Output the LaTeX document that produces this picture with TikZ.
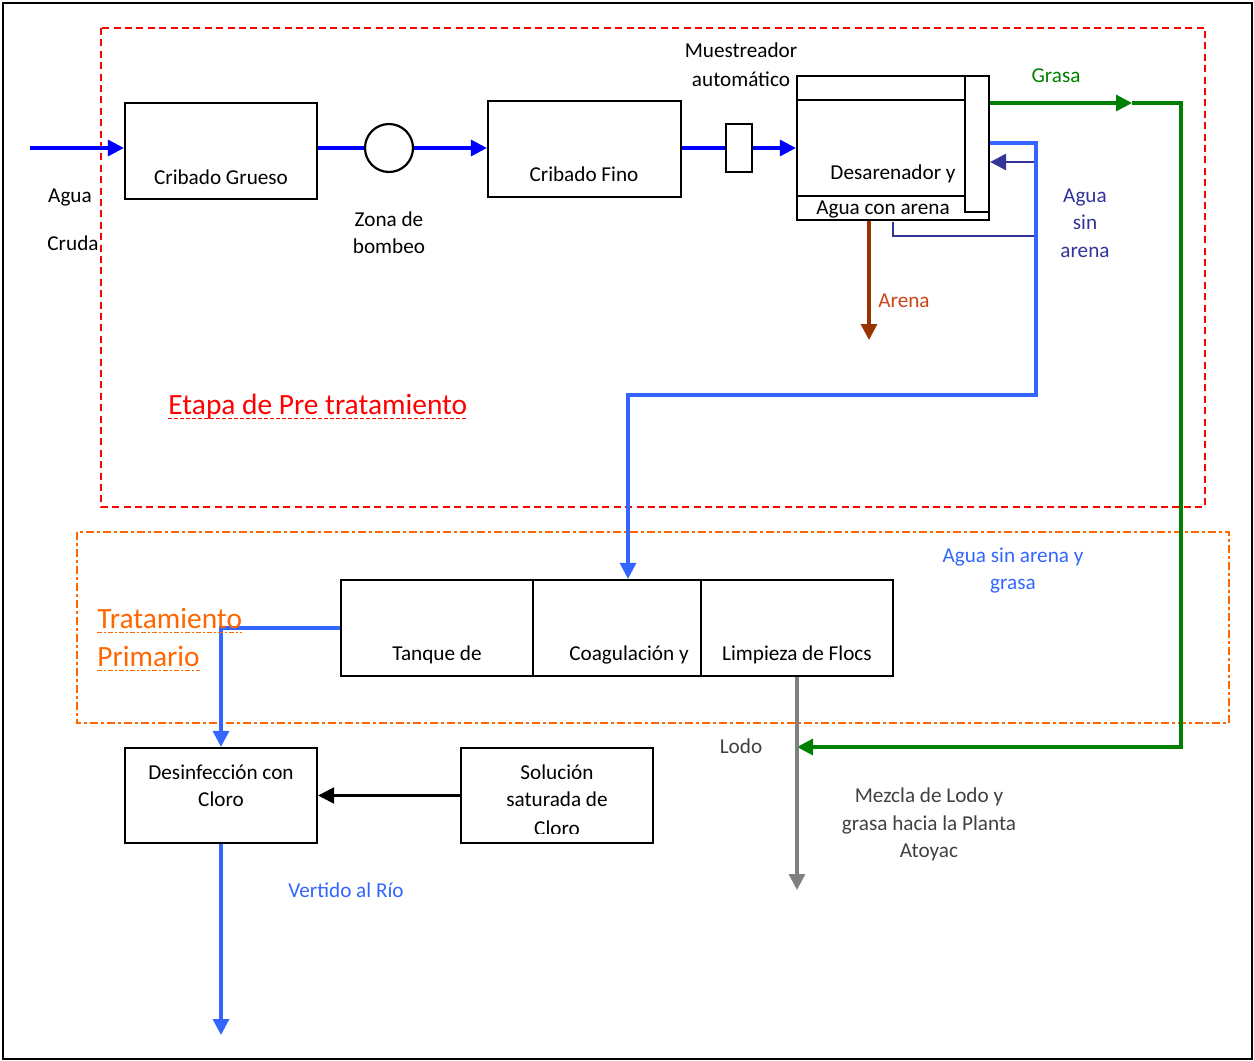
\documentclass[tikz,border=0pt]{standalone}
\usepackage{fontspec}
\setmainfont{Carlito}
\usetikzlibrary{arrows.meta}
\definecolor{flowblue}{RGB}{0,0,255}
\definecolor{lblue}{RGB}{51,102,255}
\definecolor{dblue}{RGB}{51,51,153}
\definecolor{grn}{RGB}{0,128,0}
\definecolor{brn}{RGB}{153,51,0}
\definecolor{arenatxt}{RGB}{204,68,20}
\definecolor{org}{RGB}{255,102,0}
\definecolor{redl}{RGB}{255,0,0}
\definecolor{gry}{RGB}{128,128,128}
\definecolor{dgry}{RGB}{64,64,64}
\begin{document}
\begin{tikzpicture}[x=0.5pt,y=-0.5pt,
  box/.style={draw=black,line width=1.1pt,inner sep=0pt,rectangle},
  txt/.style={font=\fontsize{10.6}{12.7}\selectfont,inner sep=0pt,anchor=center,text height=0.62em,text depth=0pt},
  head/.style={font=\fontsize{14.7}{17}\selectfont,inner sep=0pt,anchor=base west,text depth=0pt},
  tip/.style={-{Triangle[length=8pt,width=8pt]}},
  flow/.style={line width=1.6pt},
]
\useasboundingbox (0,0) rectangle (1254,1061);
\draw[line width=1.1pt] (3,3) rectangle (1252,1059);

% stage frames
\draw[redl,line width=1.2pt,dash pattern=on 3.5pt off 2.2pt] (101,28) rectangle (1205,507);
\draw[org,line width=1.2pt,dash pattern=on 4pt off 1.5pt on 1.5pt off 1.5pt] (77,532) rectangle (1229,723);

% boxes
\node[box,minimum width=96pt,minimum height=48pt] (cg) at (221,151) {};
\node[draw=black,line width=1.1pt,circle,inner sep=0pt,minimum size=24pt] (pump) at (389,148) {};
\node[box,minimum width=96.5pt,minimum height=48pt] (cf) at (584.5,149) {};
\node[box,minimum width=13pt,minimum height=24pt] (mu) at (739,148) {};
\node[box,minimum width=96pt,minimum height=72pt] (des) at (893,148) {};
\node[box,minimum width=12pt,minimum height=68pt] (bar) at (977,144) {};
\draw[line width=1.1pt] (des.west |- 0,100) -- (bar.west |- 0,100);
\draw[line width=1.1pt] (des.west |- 0,196) -- (bar.west |- 0,196);

\node[box,minimum width=96pt,minimum height=48pt] (tq) at (437,628) {};
\node[box,minimum width=84pt,minimum height=48pt] (co) at (617,628) {};
\node[box,minimum width=96pt,minimum height=48pt] (li) at (797,628) {};

\node[box,minimum width=96pt,minimum height=47.5pt] (dis) at (221,795.5) {};
\node[box,minimum width=96pt,minimum height=47.5pt] (sol) at (557,795.5) {};

% coordinates
\coordinate (in) at (30,148);
\coordinate (gm) at (1132,103);
\coordinate (g1) at (1181,103);
\coordinate (g2) at (1181,747);
\coordinate (lj) at (797,747);
\coordinate (lend) at (797,890);
\coordinate (lb1) at (1036,143);
\coordinate (lb2) at (1036,395);
\coordinate (lb3) at (628,395);
\coordinate (db0) at (893,222);
\coordinate (db1) at (893,236);
\coordinate (db2) at (1036,236);
\coordinate (db3) at (1036,162);
\coordinate (ar) at (869,340);
\coordinate (t1) at (221,628);
\coordinate (vend) at (221,1035);

% main flow
\draw[flowblue,flow,tip] (in) -- (in -| cg.west);
\draw[flowblue,flow] (cg.east |- pump) -- (pump.west);
\draw[flowblue,flow,tip] (pump.east) -- (pump -| cf.west);
\draw[flowblue,flow] (cf.east |- mu) -- (mu.west);
\draw[flowblue,flow,tip] (mu.east) -- (mu -| des.west);

% grease
\draw[grn,flow,tip] (bar.east |- g1) -- (gm);
\draw[grn,flow,tip] (gm) -- (g1) -- (g2) -- (lj);

% sand
\draw[brn,flow,tip] (ar |- des.south) -- (ar);

% water without sand (dark blue)
\draw[dblue,line width=1.4pt,tip] (db0) -- (db1) -- (db2) -- (db3) -- (db3 -| bar.east);
% water without sand and grease
\draw[lblue,flow,tip] (bar.east |- lb1) -- (lb1) -- (lb2) -- (lb3) -- (lb3 |- co.north);

% primary treatment to disinfection
\draw[lblue,flow,tip] (tq.west) -- (t1) -- (dis.north);
\draw[line width=1.1pt,tip] (sol.west) -- (dis.east);
\draw[lblue,flow,tip] (dis.south) -- (vend);
\draw[gry,flow,tip] (li.south) -- (lend);

% texts
\node[txt] (t-cg) at (221,178) {Cribado Grueso};
\node[txt] (t-cf) at (584,175) {Cribado Fino};
\node[txt] (t-des) at (893,173) {Desarenador y};
\node[txt] (t-aca) at (883,208) {Agua con arena};
\node[txt] (t-mu1) at (741,51) {Muestreador};
\node[txt] (t-mu2) at (741,80) {automático};
\node[txt] (t-zb1) at (389,220) {Zona de};
\node[txt] (t-zb2) at (389,247) {bombeo};
\node[txt] (t-ac1) at (70,196) {Agua};
\node[txt] (t-ac2) at (73,244) {Cruda};
\node[txt,text=grn] (t-gr) at (1056,76) {Grasa};
\node[txt,text=dblue] (t-as1) at (1085,196) {Agua};
\node[txt,text=dblue] (t-as2) at (1085,223) {sin};
\node[txt,text=dblue] (t-as3) at (1085,251) {arena};
\node[txt,text=arenatxt] (t-ar) at (904,301) {Arena};
\node[head,text=redl] (et) at (168,414) {Etapa de Pre tratamiento};
\draw[redl,line width=0.7pt,dash pattern=on 2pt off 1pt] ([yshift=-2pt]et.south west) -- ([yshift=-2pt]et.south east);
\node[head,text=org] (tp1) at (97,628) {Tratamiento};
\draw[org,line width=0.9pt,dash pattern=on 2.5pt off 1pt on 1pt off 1pt] ([yshift=-2pt]tp1.south west) -- ([yshift=-2pt]tp1.south east);
\node[head,text=org] (tp2) at (97,666) {Primario};
\draw[org,line width=0.9pt,dash pattern=on 2.5pt off 1pt on 1pt off 1pt] ([yshift=-2pt]tp2.south west) -- ([yshift=-2pt]tp2.south east);
\node[txt,text=lblue] (t-asg1) at (1013,556) {Agua sin arena y};
\node[txt,text=lblue] (t-asg2) at (1013,583) {grasa};
\node[txt] (t-tq) at (437,654) {Tanque de};
\node[txt] (t-co) at (629,654) {Coagulación y};
\node[txt] (t-li) at (797,654) {Limpieza de Flocs};
\node[txt] (t-d1) at (221,773) {Desinfección con};
\node[txt] (t-d2) at (221,800) {Cloro};
\node[txt] (t-s1) at (557,773) {Solución};
\node[txt] (t-s2) at (557,800) {saturada de};
\begin{scope}
\clip (461,748) rectangle (653,833);
\node[txt] (t-s3) at (557,829) {Cloro};
\end{scope}
\node[txt,text=lblue] (t-vr) at (346,891) {Vertido al Río};
\node[txt,text=dgry] (t-lo) at (741,747) {Lodo};
\node[txt,text=dgry] (t-m1) at (929,796) {Mezcla de Lodo y};
\node[txt,text=dgry] (t-m2) at (929,824) {grasa hacia la Planta};
\node[txt,text=dgry] (t-m3) at (929,851) {Atoyac};
\end{tikzpicture}
\end{document}
